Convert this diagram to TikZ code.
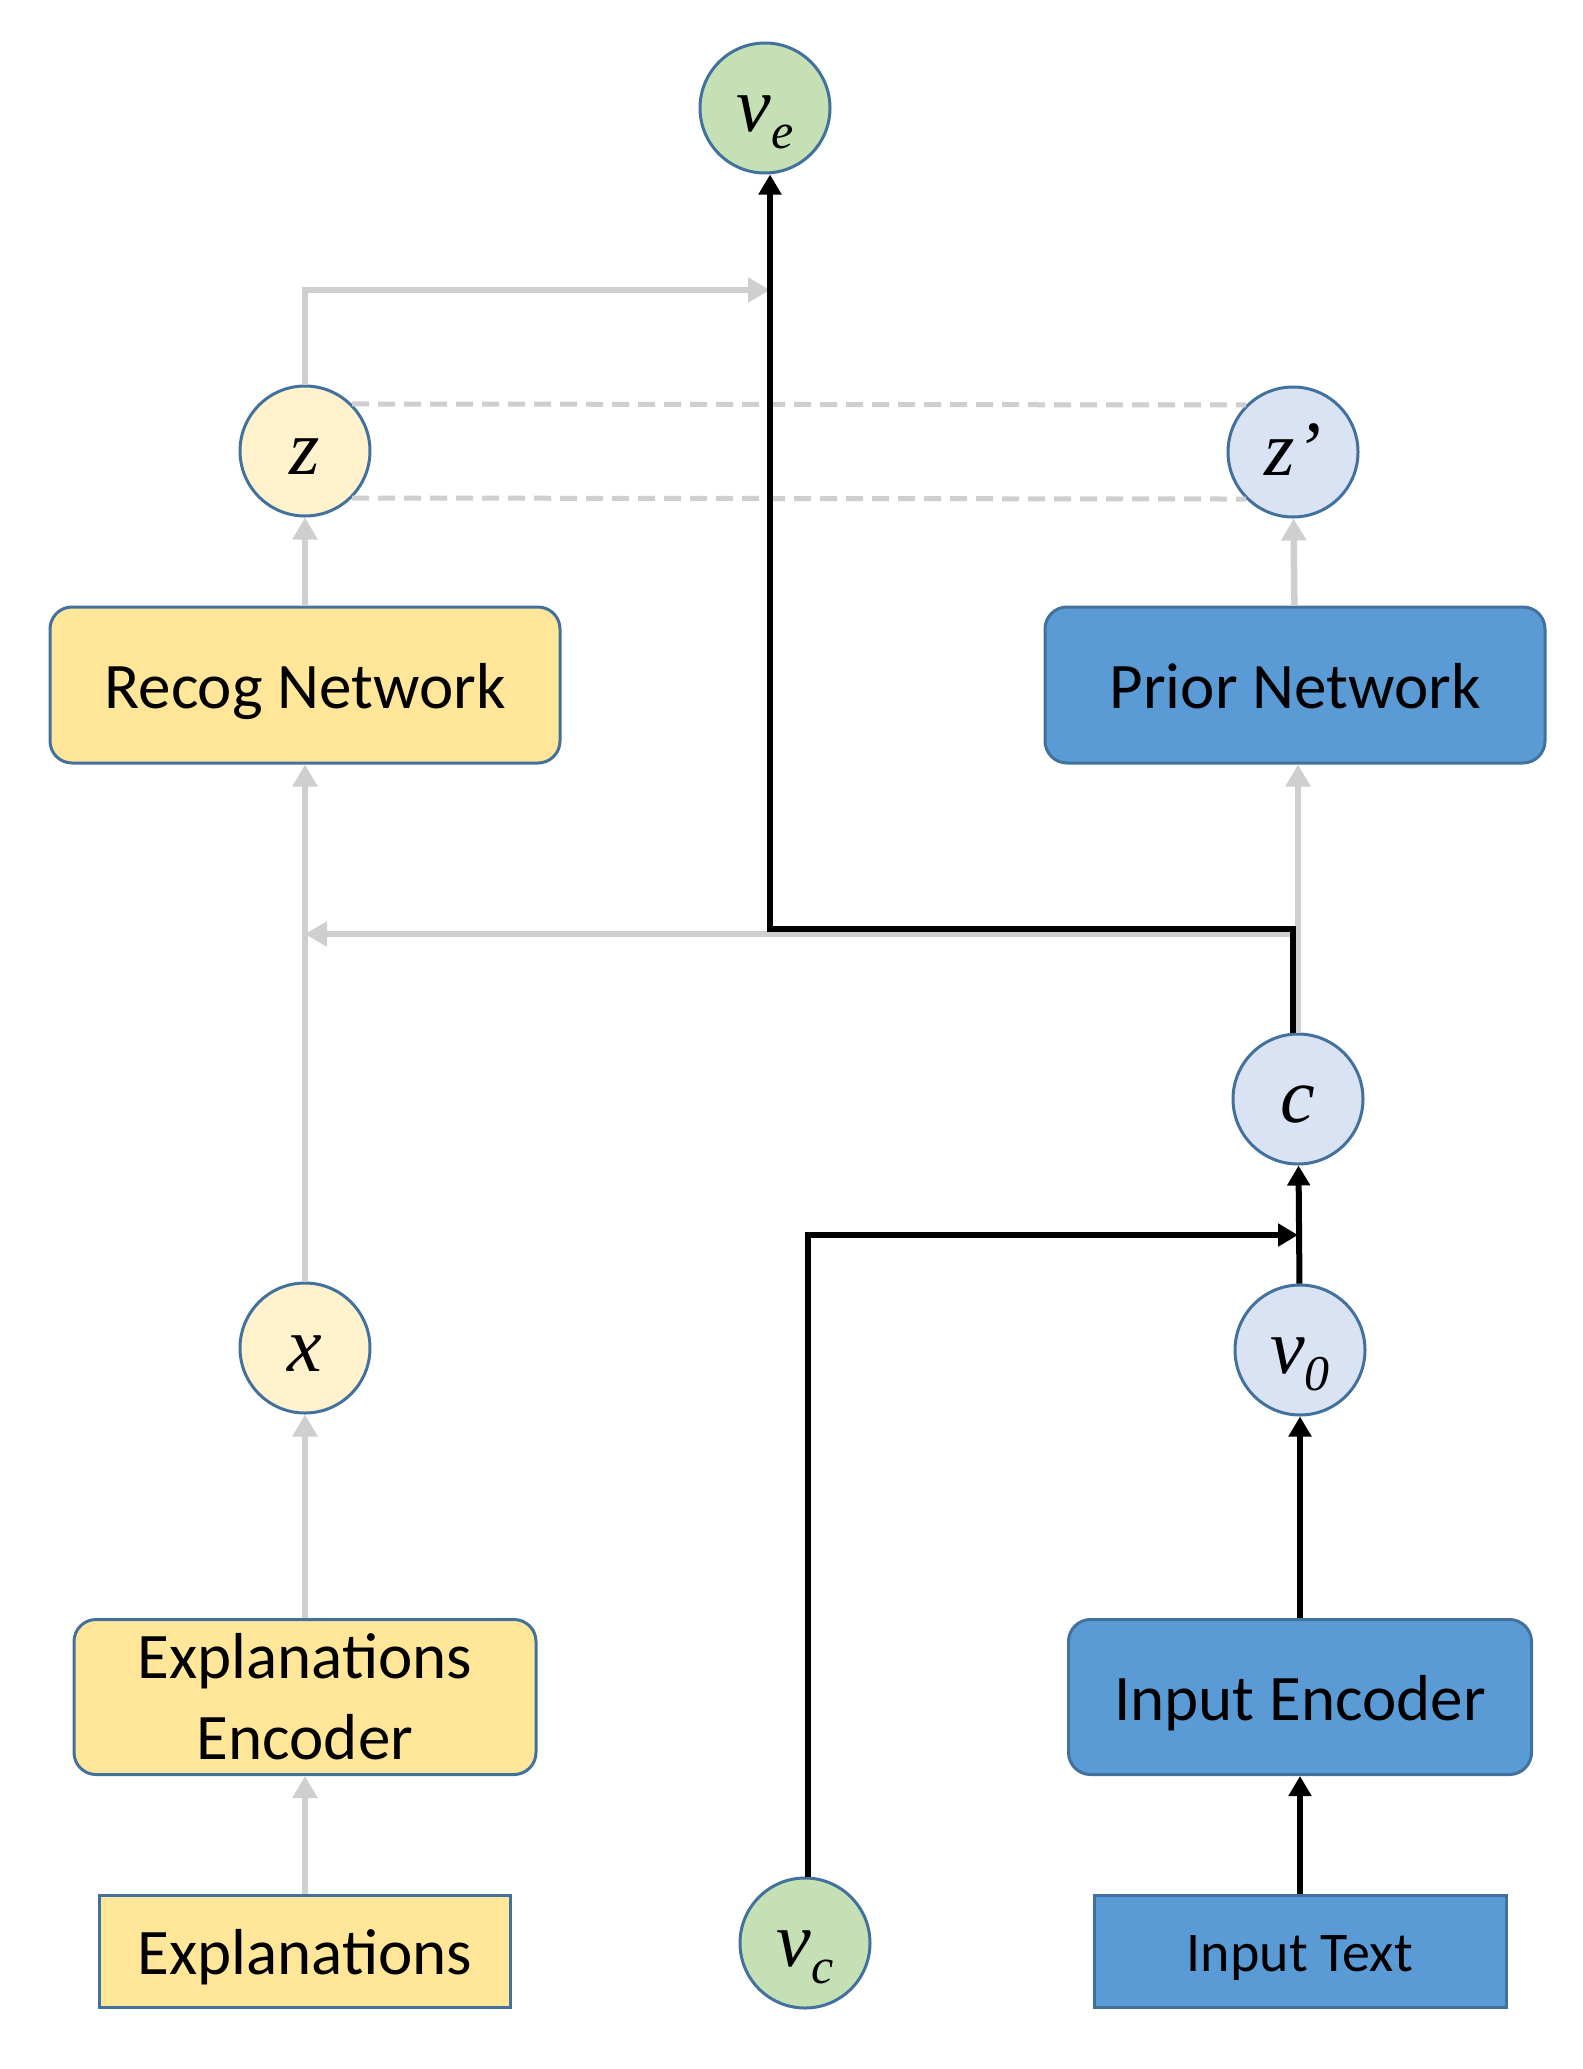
\documentclass[tikz,border=0pt]{standalone}
\usepackage{fontspec}
\setmainfont{Carlito}
\newfontfamily\timesf{Liberation Serif}
\usetikzlibrary{arrows.meta}
\definecolor{bordblue}{HTML}{41719C}
\definecolor{yelbox}{HTML}{FFE699}
\definecolor{yelcirc}{HTML}{FFF2CC}
\definecolor{bluebox}{HTML}{5B9BD5}
\definecolor{bluecirc}{HTML}{DAE3F3}
\definecolor{greencirc}{HTML}{C5E0B4}
\definecolor{arrgray}{HTML}{D0CECE}
\newcommand\varlab[2]{{\fontsize{78}{78}\selectfont\timesf\itshape #1\raisebox{-17pt}{\fontsize{50}{50}\selectfont #2}}}
\tikzset{
  varnode/.style={circle, draw=bordblue, line width=3pt, minimum size=130pt, inner sep=0pt, text height=60pt, text depth=14pt},
  boxnode/.style={draw=bordblue, line width=3pt, rounded corners=22pt, inner sep=0pt, font=\fontsize{65}{81}\selectfont, align=center},
  txtfix/.style={text height=60pt, text depth=14pt},
  grayarr/.style={draw=arrgray, line width=6.5pt, -{Triangle[length=22pt,width=24pt]}},
  blackarr/.style={draw=black, line width=6pt, -{Triangle[length=20pt,width=22pt]}},
  grayline/.style={draw=arrgray, line width=6.5pt},
  dashline/.style={draw=arrgray, line width=5pt, dash pattern=on 17pt off 9pt}
}
\begin{document}
\begin{tikzpicture}[x=1pt,y=-1pt]
\useasboundingbox (0,0) rectangle (1582,2069);
% nodes
\node[varnode, fill=greencirc] (ve) at (765,108) {\varlab{v}{e}};
\node[varnode, fill=yelcirc] (z) at (305,451) {\varlab{z}{}};
\node[varnode, fill=bluecirc] (zp) at (1293,452) {\varlab{z’}{}};
\node[boxnode, fill=yelbox, minimum width=510pt, minimum height=156pt, txtfix] (recog) at (305,685) {Recog Network};
\node[boxnode, fill=bluebox, minimum width=500pt, minimum height=156pt, txtfix] (prior) at (1295,685) {Prior Network};
\node[varnode, fill=bluecirc] (c) at (1298,1099) {\varlab{c}{}};
\node[varnode, fill=yelcirc] (x) at (305,1348) {\varlab{x}{}};
\node[varnode, fill=bluecirc] (v0) at (1300,1350) {\varlab{v}{0}};
\node[boxnode, fill=yelbox, minimum width=462pt, minimum height=155pt] (expenc) at (305,1697) {Explanations\\Encoder};
\node[boxnode, fill=bluebox, minimum width=463pt, minimum height=155pt, txtfix] (ienc) at (1300,1697) {Input Encoder};
\node[boxnode, rounded corners=0pt, fill=yelbox, minimum width=411pt, minimum height=112pt, txtfix] (expl) at (305,1951) {Explanations};
\node[boxnode, rounded corners=0pt, fill=bluebox, minimum width=412pt, minimum height=112pt, font=\fontsize{56}{68}\selectfont, text height=52pt, text depth=12pt] (itext) at (1300,1951) {Input Text};
\node[varnode, fill=greencirc] (vc) at (805,1943) {\varlab{v}{c}};
% junction coordinates
\coordinate (gtop) at (770,290);
\coordinate (gmidr) at (1297,934);
\coordinate (gmidl) at (305,934);
\coordinate (bmid) at (770,929);
\coordinate (bin) at (1298,1235);
% gray connectors
\draw[grayarr] (expl) -- (expenc);
\draw[grayarr] (expenc) -- (x);
\draw[grayarr] (x) -- (recog);
\draw[grayarr] (recog) -- (z);
\draw[grayarr] (z.north) |- (gtop);
\draw[grayarr] ([xshift=0pt]c.north) -- (c.north |- prior.south);
\draw[grayarr] (gmidr) -- (gmidl);
\draw[grayarr] (prior) -- (zp);
\draw[dashline] (z.45) -- (zp.135);
\draw[dashline] (z.-45) -- (zp.-135);
% black connectors
\draw[blackarr] (itext) -- (ienc);
\draw[blackarr] (ienc) -- (v0);
\draw[blackarr] (v0) -- (c);
\draw[blackarr] ([xshift=3pt]vc.north) |- (bin);
\draw[blackarr, rounded corners=0pt] ([xshift=-5pt]c.north) |- (bmid) -- (bmid |- ve.south);
\end{tikzpicture}
\end{document}
